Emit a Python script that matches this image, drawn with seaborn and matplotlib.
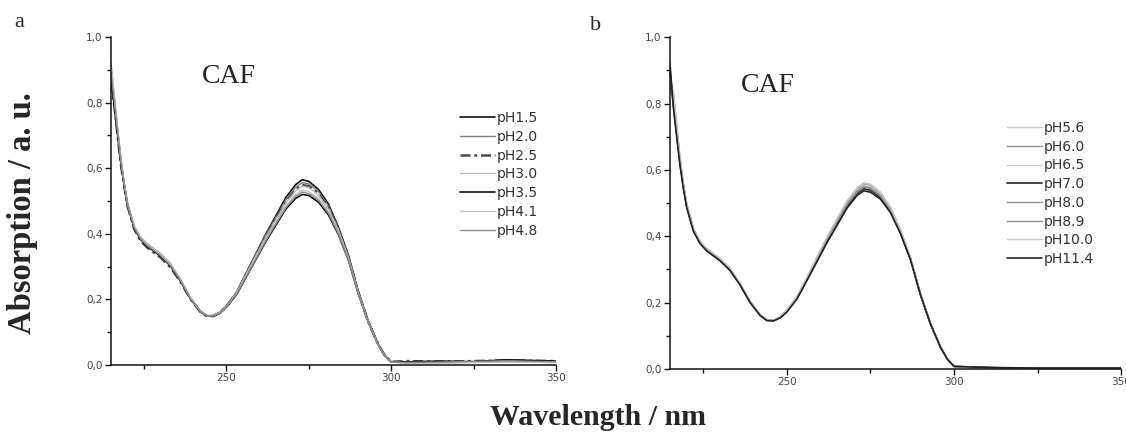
import matplotlib
matplotlib.use("Agg")
import matplotlib.pyplot as plt
from matplotlib.ticker import FuncFormatter, MultipleLocator
import seaborn as sns

# wavelength grid (nm)
WL = [215, 216, 217, 218, 219, 220, 222, 224, 226, 228, 230, 233, 236, 239, 242,
      244, 246, 248, 250, 253, 256, 259, 262, 265, 268, 271, 273, 275, 278, 281,
      284, 287, 290, 293, 296, 298, 300, 305, 315, 325, 335, 350]

# panel a, acid side
pH1_5 = [0.88, 0.80, 0.71, 0.62, 0.55, 0.49, 0.42, 0.385, 0.365, 0.35, 0.335, 0.305, 0.26, 0.205, 0.165,
         0.15, 0.15, 0.16, 0.18, 0.22, 0.28, 0.34, 0.40, 0.455, 0.51, 0.55, 0.565, 0.56, 0.535, 0.49,
         0.42, 0.335, 0.225, 0.135, 0.065, 0.03, 0.01, 0.008, 0.01, 0.01, 0.015, 0.01]
pH2_0 = [0.92, 0.82, 0.72, 0.63, 0.555, 0.495, 0.425, 0.39, 0.37, 0.355, 0.34, 0.31, 0.262, 0.207, 0.166,
         0.151, 0.151, 0.161, 0.181, 0.221, 0.279, 0.338, 0.397, 0.45, 0.503, 0.542, 0.556, 0.552, 0.528, 0.484,
         0.416, 0.332, 0.224, 0.134, 0.064, 0.029, 0.009, 0.006, 0.007, 0.008, 0.01, 0.008]
pH2_5 = [0.86, 0.79, 0.70, 0.61, 0.545, 0.485, 0.415, 0.378, 0.358, 0.343, 0.328, 0.298, 0.255, 0.203, 0.163,
         0.149, 0.149, 0.159, 0.179, 0.218, 0.276, 0.334, 0.392, 0.445, 0.497, 0.535, 0.549, 0.545, 0.522, 0.478,
         0.412, 0.33, 0.222, 0.133, 0.064, 0.03, 0.01, 0.012, 0.01, 0.012, 0.014, 0.012]
pH3_0 = [0.90, 0.81, 0.715, 0.625, 0.55, 0.49, 0.422, 0.387, 0.367, 0.352, 0.337, 0.306, 0.26, 0.205, 0.165,
         0.15, 0.15, 0.16, 0.179, 0.219, 0.276, 0.334, 0.39, 0.442, 0.494, 0.531, 0.545, 0.541, 0.518, 0.475,
         0.41, 0.328, 0.221, 0.133, 0.063, 0.029, 0.009, 0.007, 0.008, 0.009, 0.012, 0.009]
pH3_5 = [0.87, 0.79, 0.70, 0.615, 0.545, 0.487, 0.418, 0.382, 0.362, 0.347, 0.332, 0.302, 0.257, 0.203, 0.164,
         0.149, 0.149, 0.158, 0.176, 0.213, 0.268, 0.323, 0.377, 0.426, 0.475, 0.508, 0.52, 0.517, 0.496, 0.457,
         0.397, 0.32, 0.218, 0.132, 0.063, 0.029, 0.009, 0.01, 0.012, 0.01, 0.016, 0.012]
pH4_1 = [0.91, 0.815, 0.72, 0.628, 0.553, 0.492, 0.424, 0.389, 0.369, 0.354, 0.339, 0.308, 0.261, 0.206, 0.165,
         0.15, 0.15, 0.159, 0.178, 0.216, 0.272, 0.328, 0.383, 0.434, 0.484, 0.52, 0.533, 0.529, 0.507, 0.466,
         0.403, 0.324, 0.22, 0.133, 0.063, 0.029, 0.009, 0.006, 0.007, 0.008, 0.009, 0.007]
pH4_8 = [0.89, 0.805, 0.712, 0.62, 0.548, 0.488, 0.42, 0.384, 0.364, 0.349, 0.334, 0.304, 0.259, 0.204, 0.164,
         0.15, 0.15, 0.159, 0.177, 0.215, 0.27, 0.325, 0.38, 0.43, 0.479, 0.514, 0.527, 0.523, 0.502, 0.462,
         0.4, 0.322, 0.219, 0.132, 0.063, 0.029, 0.009, 0.008, 0.009, 0.011, 0.013, 0.01]

# panel b, neutral / basic side
pH5_6 = [0.86, 0.84, 0.74, 0.64, 0.56, 0.50, 0.425, 0.385, 0.363, 0.348, 0.333, 0.303, 0.258, 0.204, 0.164,
         0.148, 0.147, 0.157, 0.177, 0.218, 0.277, 0.338, 0.398, 0.453, 0.507, 0.546, 0.561, 0.557, 0.533, 0.488,
         0.42, 0.335, 0.226, 0.136, 0.066, 0.03, 0.008, 0.004, 0.002, 0.002, 0.002, 0.002]
pH6_0 = [0.85, 0.83, 0.735, 0.635, 0.558, 0.498, 0.424, 0.384, 0.362, 0.347, 0.332, 0.302, 0.257, 0.203, 0.163,
         0.148, 0.147, 0.157, 0.177, 0.217, 0.276, 0.336, 0.396, 0.45, 0.504, 0.543, 0.558, 0.554, 0.53, 0.486,
         0.418, 0.334, 0.225, 0.135, 0.066, 0.03, 0.008, 0.004, 0.002, 0.002, 0.002, 0.002]
pH6_5 = [0.84, 0.82, 0.73, 0.632, 0.556, 0.496, 0.422, 0.383, 0.361, 0.346, 0.331, 0.301, 0.257, 0.203, 0.163,
         0.148, 0.147, 0.157, 0.176, 0.216, 0.274, 0.333, 0.392, 0.446, 0.499, 0.538, 0.553, 0.549, 0.526, 0.482,
         0.415, 0.332, 0.224, 0.135, 0.065, 0.03, 0.008, 0.004, 0.003, 0.002, 0.002, 0.002]
pH7_0 = [0.90, 0.80, 0.71, 0.62, 0.55, 0.49, 0.418, 0.38, 0.358, 0.343, 0.328, 0.298, 0.254, 0.201, 0.162,
         0.147, 0.146, 0.155, 0.174, 0.213, 0.27, 0.328, 0.386, 0.438, 0.491, 0.529, 0.543, 0.539, 0.517, 0.475,
         0.41, 0.33, 0.223, 0.135, 0.065, 0.03, 0.008, 0.006, 0.003, 0.002, 0.002, 0.002]
pH8_0 = [0.87, 0.81, 0.72, 0.628, 0.553, 0.493, 0.42, 0.382, 0.36, 0.345, 0.33, 0.3, 0.256, 0.202, 0.163,
         0.148, 0.147, 0.156, 0.175, 0.215, 0.272, 0.331, 0.389, 0.442, 0.495, 0.533, 0.548, 0.544, 0.521, 0.478,
         0.412, 0.331, 0.224, 0.135, 0.065, 0.03, 0.008, 0.005, 0.003, 0.002, 0.002, 0.002]
pH8_9 = [0.88, 0.815, 0.725, 0.63, 0.555, 0.495, 0.421, 0.383, 0.361, 0.346, 0.331, 0.301, 0.256, 0.202, 0.163,
         0.148, 0.147, 0.156, 0.176, 0.215, 0.273, 0.332, 0.391, 0.444, 0.497, 0.536, 0.55, 0.546, 0.523, 0.48,
         0.414, 0.332, 0.224, 0.135, 0.065, 0.03, 0.008, 0.005, 0.003, 0.002, 0.002, 0.002]
pH10_0 = [0.86, 0.835, 0.738, 0.638, 0.559, 0.499, 0.424, 0.385, 0.363, 0.348, 0.333, 0.303, 0.258, 0.203, 0.164,
          0.148, 0.147, 0.157, 0.177, 0.217, 0.276, 0.337, 0.397, 0.452, 0.506, 0.545, 0.56, 0.556, 0.532, 0.487,
          0.419, 0.335, 0.226, 0.136, 0.066, 0.03, 0.008, 0.004, 0.002, 0.002, 0.002, 0.002]
pH11_4 = [0.92, 0.79, 0.70, 0.615, 0.545, 0.487, 0.416, 0.378, 0.356, 0.341, 0.326, 0.297, 0.253, 0.2, 0.161,
          0.146, 0.145, 0.154, 0.172, 0.211, 0.267, 0.324, 0.381, 0.433, 0.485, 0.523, 0.537, 0.533, 0.512, 0.471,
          0.408, 0.329, 0.223, 0.135, 0.065, 0.03, 0.008, 0.006, 0.004, 0.003, 0.003, 0.003]

labels_a = ["pH1.5", "pH2.0", "pH2.5", "pH3.0", "pH3.5", "pH4.1", "pH4.8"]
series_a = [pH1_5, pH2_0, pH2_5, pH3_0, pH3_5, pH4_1, pH4_8]
labels_b = ["pH5.6", "pH6.0", "pH6.5", "pH7.0", "pH8.0", "pH8.9", "pH10.0", "pH11.4"]
series_b = [pH5_6, pH6_0, pH6_5, pH7_0, pH8_0, pH8_9, pH10_0, pH11_4]

# line styles (colour, dash, width)
styles_a = [("#111111", "-", 1.2), ("#808080", "-", 1.0), ("#4a4a4a", (0, (4, 1.5, 1.2, 1.5)), 1.8),
            ("#bdbdbd", "-", 1.0), ("#111111", "-", 1.2), ("#c4c4c4", "-", 1.0), ("#8a8a8a", "-", 1.0)]
styles_b = [("#c8c8c8", "-", 1.0), ("#8c8c8c", "-", 1.0), ("#c8c8c8", "-", 1.0), ("#333333", "-", 1.3),
            ("#8c8c8c", "-", 1.0), ("#8c8c8c", "-", 1.0), ("#c8c8c8", "-", 1.0), ("#222222", "-", 1.2)]

sns.set_theme(style="ticks")
plt.rcParams['font.family'] = ['DejaVu Sans']

fig = plt.figure(figsize=(11.26, 4.43), dpi=100)
ax_a = fig.add_axes([0.0986, 0.176, 0.3952, 0.7404])
ax_b = fig.add_axes([0.595, 0.167, 0.4006, 0.749])

comma = FuncFormatter(lambda v, p: f"{v:.1f}".replace(".", ","))


def draw_panel(ax, series, labels, styles):
    for vals, lab, (c, ls, lw) in zip(series, labels, styles):
        sns.lineplot(x=WL, y=vals, ax=ax, color=c, linestyle=ls, linewidth=lw, label=lab)
    ax.set_xlim(215, 350)
    ax.set_ylim(0, 1.0)
    ax.xaxis.set_major_locator(MultipleLocator(50))
    ax.xaxis.set_minor_locator(MultipleLocator(25))
    ax.yaxis.set_major_locator(MultipleLocator(0.2))
    ax.yaxis.set_minor_locator(MultipleLocator(0.1))
    ax.yaxis.set_major_formatter(comma)
    ax.tick_params(which="major", direction="out", length=4, width=1, labelsize=7.5,
                   labelcolor="#444444", color="#111111", pad=2)
    ax.tick_params(which="minor", direction="out", length=3, width=1, color="#111111")
    for s in ["top", "right"]:
        ax.spines[s].set_visible(False)
    for s in ["left", "bottom"]:
        ax.spines[s].set_linewidth(1.1)
        ax.spines[s].set_color("#111111")
    ax.set_xlabel("")
    ax.set_ylabel("")


draw_panel(ax_a, series_a, labels_a, styles_a)
draw_panel(ax_b, series_b, labels_b, styles_b)

leg_kw = dict(loc="upper left", frameon=False, fontsize=10, handlelength=2.5,
              handletextpad=0.15, labelspacing=0.34, borderpad=0, borderaxespad=0)
leg_a = ax_a.legend(bbox_to_anchor=(0.4085, 0.749), bbox_transform=fig.transFigure, **leg_kw)
leg_b = ax_b.legend(bbox_to_anchor=(0.8943, 0.727), bbox_transform=fig.transFigure, **leg_kw)
for leg in (leg_a, leg_b):
    for t in leg.get_texts():
        t.set_color("#333333")

serif = ["Liberation Serif", "DejaVu Serif"]
fig.text(0.203, 0.828, "CAF", family=serif, fontsize=20, ha="center", va="center")
fig.text(0.682, 0.808, "CAF", family=serif, fontsize=20, ha="center", va="center")
fig.text(0.017, 0.95, "a", family=serif, fontsize=16, ha="center", va="center")
fig.text(0.529, 0.943, "b", family=serif, fontsize=16, ha="center", va="center")
fig.text(0.02, 0.52, "Absorption / a. u.", family=serif, fontsize=23.5, fontweight="bold",
         rotation=90, ha="center", va="center")
fig.text(0.531, 0.058, "Wavelength / nm", family=serif, fontsize=21.5, fontweight="bold",
         ha="center", va="center")

fig.savefig("out.png", dpi=100)
